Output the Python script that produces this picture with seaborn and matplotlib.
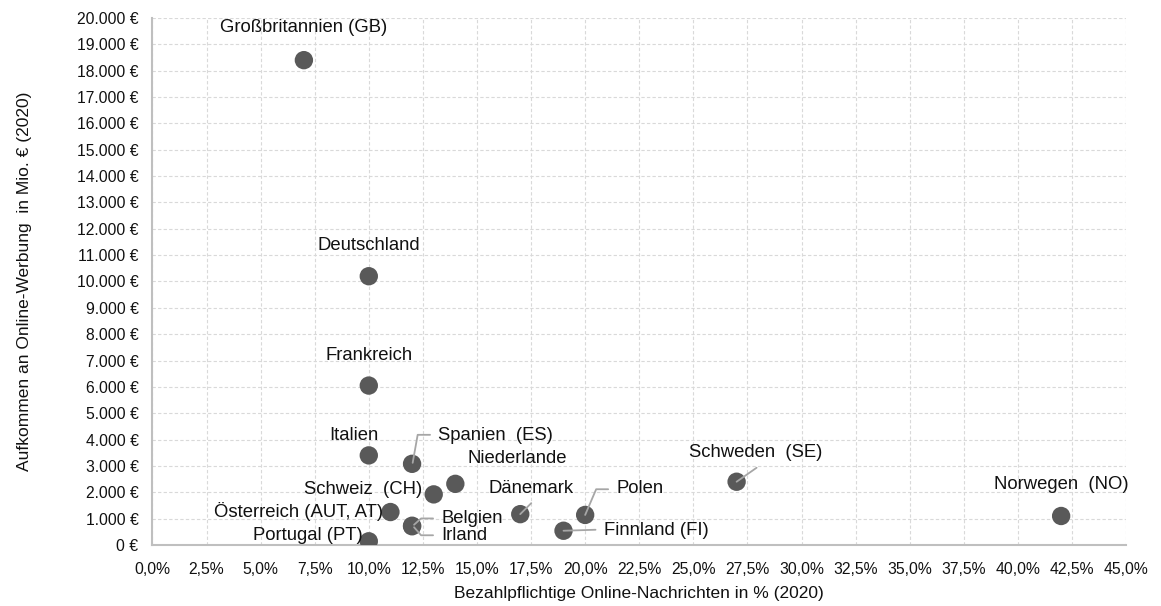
import numpy as np
import pandas as pd
import matplotlib
matplotlib.use("Agg")
import matplotlib.pyplot as plt
import matplotlib.transforms as mtransforms
from matplotlib.ticker import FuncFormatter, MultipleLocator
import seaborn as sns

# Data
countries = ["Großbritannien (GB)", "Deutschland", "Frankreich", "Italien",
             "Spanien  (ES)", "Niederlande", "Schweiz  (CH)", "Österreich (AUT, AT)",
             "Belgien", "Irland", "Portugal (PT)", "Dänemark", "Polen",
             "Finnland (FI)", "Schweden  (SE)", "Norwegen  (NO)"]
paid_share = [7, 10, 10, 10, 12, 14, 13, 11, 12, 12, 10, 17, 20, 19, 27, 42]
ad_revenue = [18400, 10200, 6050, 3400, 3080, 2320, 1920, 1250,
              730, 710, 140, 1170, 1140, 540, 2400, 1100]

# Label placement (pixel offsets from the dot, y up) and alignment
label_offsets = {
    "Großbritannien (GB)": (0, 33, "center"),
    "Deutschland": (0, 31, "center"),
    "Frankreich": (0, 30, "center"),
    "Italien": (-15, 20, "center"),
    "Spanien  (ES)": (26, 28, "left"),
    "Niederlande": (12, 25, "left"),
    "Schweiz  (CH)": (-11, 5, "right"),
    "Österreich (AUT, AT)": (-7, 1, "right"),
    "Belgien": (29, 7, "left"),
    "Irland": (29, -9, "left"),
    "Portugal (PT)": (-6, 6, "right"),
    "Dänemark": (11, 26, "center"),
    "Polen": (31, 26, "left"),
    "Finnland (FI)": (40, 0, "left"),
    "Schweden  (SE)": (19, 29, "center"),
    "Norwegen  (NO)": (0, 31, "center"),
}

# Leader lines (pixel offsets from the dot)
leaders = {
    "Spanien  (ES)": [(0.6, 1), (5.6, 29), (18, 29)],
    "Belgien": [(2, 1), (9, 7.3), (21, 7.3)],
    "Irland": [(2, -1), (9, -9), (21, -9)],
    "Dänemark": [(0, 0), (11, 11)],
    "Polen": [(0, 0), (11, 25.7), (23, 25.7)],
    "Finnland (FI)": [(0, 0), (32, 1)],
    "Schweden  (SE)": [(0, 0), (20, 14)],
}

df = pd.DataFrame({"land": countries, "paid": paid_share, "revenue": ad_revenue})

sns.set_style("whitegrid")
plt.rcParams["font.family"] = ["Liberation Sans", "DejaVu Sans"]

fig, ax = plt.subplots(figsize=(11.61, 6.06), dpi=100)
fig.subplots_adjust(left=0.1313, right=0.9699, bottom=0.1007, top=0.9703)

sns.scatterplot(data=df, x="paid", y="revenue", ax=ax, s=175,
                color="#595959", edgecolor="none", zorder=3)

ax.set_xlim(0, 45)
ax.set_ylim(0, 20000)
ax.xaxis.set_major_locator(MultipleLocator(2.5))
ax.yaxis.set_major_locator(MultipleLocator(1000))
ax.xaxis.set_major_formatter(FuncFormatter(lambda v, p: f"{v:.1f}".replace(".", ",") + "%"))
ax.yaxis.set_major_formatter(FuncFormatter(lambda v, p: f"{int(v):,}".replace(",", ".") + " €"))

ax.grid(True, color="#d9d9d9", linestyle=(0, (3, 2)), linewidth=0.8)
for side in ["top", "right"]:
    ax.spines[side].set_visible(False)
for side in ["left", "bottom"]:
    ax.spines[side].set_color("#bfbfbf")
    ax.spines[side].set_linewidth(1.5)

ax.tick_params(axis="x", length=0, pad=12.5, labelsize=11.3, labelcolor="#111111")
ax.tick_params(axis="y", length=0, pad=10, labelsize=11.3, labelcolor="#111111")

ax.set_xlabel("Bezahlpflichtige Online-Nachrichten in % (2020)", fontsize=12.5,
              color="#111111", labelpad=6)
ax.set_ylabel("Aufkommen an Online-Werbung  in Mio. € (2020)", fontsize=12.5,
              color="#111111", labelpad=32)

# Labels and leader lines
for name, x, y in zip(df["land"], df["paid"], df["revenue"]):
    dx, dy, ha = label_offsets[name]
    ax.annotate(name, xy=(x, y), xytext=(dx, dy), textcoords="offset pixels",
                ha=ha, va="center", fontsize=13.3, color="#111111")
    if name in leaders:
        pts = np.array(leaders[name])
        trans = mtransforms.IdentityTransform() + mtransforms.ScaledTranslation(x, y, ax.transData)
        ax.plot(pts[:, 0], pts[:, 1], transform=trans, color="#a6a6a6",
                linewidth=1.3, zorder=4, clip_on=False)

plt.savefig("out.png", dpi=100)
plt.close()
